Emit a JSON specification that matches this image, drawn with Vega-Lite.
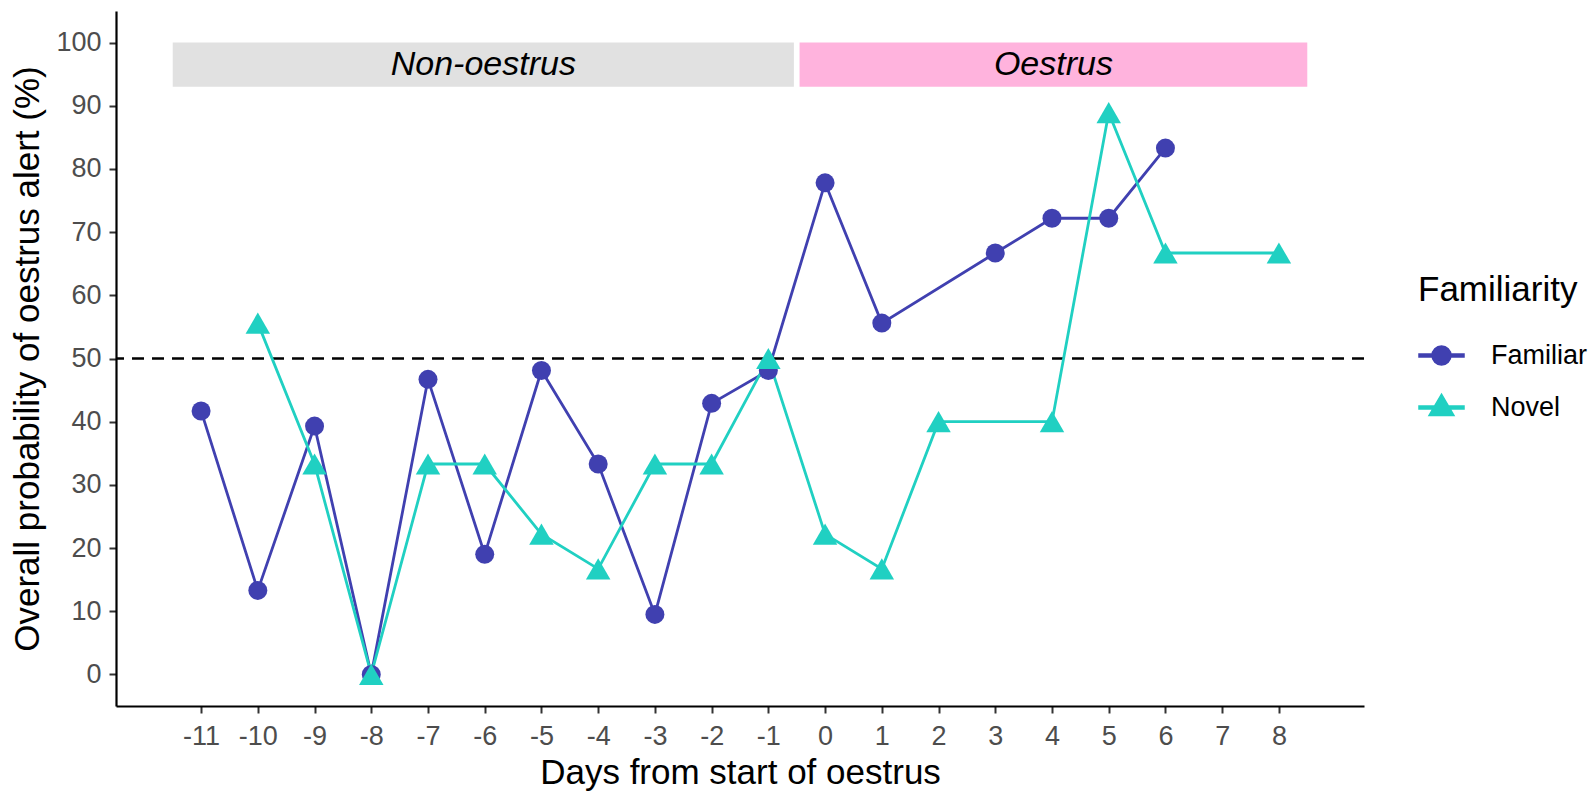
{
  "$schema": "https://vega.github.io/schema/vega-lite/v6.json",
  "autosize": "none",
  "width": 1248,
  "height": 695,
  "padding": {"left": 116, "top": 11, "right": 231, "bottom": 91},
  "background": "white",
  "config": {
    "view": {"stroke": null},
    "font": "Liberation Sans",
    "axis": {
      "grid": false,
      "domainColor": "black",
      "domainWidth": 2.2,
      "tickColor": "#333333",
      "tickWidth": 2,
      "tickSize": 7,
      "labelColor": "#4D4D4D",
      "labelFontSize": 27,
      "labelFont": "Liberation Sans",
      "labelOverlap": false,
      "titleFont": "Liberation Sans",
      "titleFontSize": 35,
      "titleFontWeight": "normal",
      "titleColor": "black"
    },
    "legend": {
      "labelFont": "Liberation Sans",
      "titleFont": "Liberation Sans",
      "orient": "none",
      "legendX": 1302,
      "legendY": 262,
      "titleFontSize": 35,
      "titleFontWeight": "normal",
      "titleColor": "black",
      "titlePadding": 24,
      "labelFontSize": 27,
      "labelColor": "black",
      "labelOffset": 26,
      "symbolSize": 2025,
      "symbolOpacity": 1,
      "rowPadding": 15
    }
  },
  "datasets": {
    "obs": [
      {"day": -11, "prob": 41.7, "group": "Familiar"},
      {"day": -10, "prob": 13.3, "group": "Familiar"},
      {"day": -9, "prob": 39.3, "group": "Familiar"},
      {"day": -8, "prob": 0, "group": "Familiar"},
      {"day": -7, "prob": 46.7, "group": "Familiar"},
      {"day": -6, "prob": 19.0, "group": "Familiar"},
      {"day": -5, "prob": 48.1, "group": "Familiar"},
      {"day": -4, "prob": 33.3, "group": "Familiar"},
      {"day": -3, "prob": 9.5, "group": "Familiar"},
      {"day": -2, "prob": 42.9, "group": "Familiar"},
      {"day": -1, "prob": 48.1, "group": "Familiar"},
      {"day": 0, "prob": 77.8, "group": "Familiar"},
      {"day": 1, "prob": 55.6, "group": "Familiar"},
      {"day": 3, "prob": 66.7, "group": "Familiar"},
      {"day": 4, "prob": 72.2, "group": "Familiar"},
      {"day": 5, "prob": 72.2, "group": "Familiar"},
      {"day": 6, "prob": 83.3, "group": "Familiar"},
      {"day": -10, "prob": 55.6, "group": "Novel"},
      {"day": -9, "prob": 33.3, "group": "Novel"},
      {"day": -8, "prob": 0, "group": "Novel"},
      {"day": -7, "prob": 33.3, "group": "Novel"},
      {"day": -6, "prob": 33.3, "group": "Novel"},
      {"day": -5, "prob": 22.2, "group": "Novel"},
      {"day": -4, "prob": 16.7, "group": "Novel"},
      {"day": -3, "prob": 33.3, "group": "Novel"},
      {"day": -2, "prob": 33.3, "group": "Novel"},
      {"day": -1, "prob": 50.0, "group": "Novel"},
      {"day": 0, "prob": 22.2, "group": "Novel"},
      {"day": 1, "prob": 16.7, "group": "Novel"},
      {"day": 2, "prob": 40.0, "group": "Novel"},
      {"day": 4, "prob": 40.0, "group": "Novel"},
      {"day": 5, "prob": 88.9, "group": "Novel"},
      {"day": 6, "prob": 66.7, "group": "Novel"},
      {"day": 8, "prob": 66.7, "group": "Novel"}
    ],
    "phases": [
      {"phase": "Non-oestrus", "start": -11.5, "end": -0.55, "center": -6.025, "low": 93, "high": 100, "labely": 96.5},
      {"phase": "Oestrus", "start": -0.45, "end": 8.5, "center": 4.025, "low": 93, "high": 100, "labely": 96.5}
    ]
  },
  "layer": [
    {
      "data": {"name": "phases"},
      "transform": [{"filter": "datum.phase === 'Non-oestrus'"}],
      "mark": {"type": "rect", "color": "#E1E1E1"},
      "encoding": {
        "x": {"field": "start", "type": "quantitative"},
        "x2": {"field": "end"},
        "y": {"field": "low", "type": "quantitative"},
        "y2": {"field": "high"}
      }
    },
    {
      "data": {"name": "phases"},
      "transform": [{"filter": "datum.phase === 'Oestrus'"}],
      "mark": {"type": "rect", "color": "#FFB3DD"},
      "encoding": {
        "x": {"field": "start", "type": "quantitative"},
        "x2": {"field": "end"},
        "y": {"field": "low", "type": "quantitative"},
        "y2": {"field": "high"}
      }
    },
    {
      "data": {"name": "phases"},
      "mark": {"type": "text", "fontStyle": "italic", "fontSize": 34, "color": "black", "font": "Liberation Sans", "baseline": "middle", "align": "center"},
      "encoding": {
        "x": {"field": "center", "type": "quantitative"},
        "y": {"field": "labely", "type": "quantitative"},
        "text": {"field": "phase"}
      }
    },
    {
      "data": {"values": [{"threshold": 50}]},
      "mark": {"type": "rule", "color": "black", "strokeWidth": 2.5, "strokeDash": [12, 8]},
      "encoding": {
        "y": {"field": "threshold", "type": "quantitative"}
      }
    },
    {
      "data": {"name": "obs"},
      "transform": [{"filter": "datum.day > 100"}],
      "mark": {"type": "point", "filled": true},
      "encoding": {
        "x": {"field": "day", "type": "quantitative"},
        "y": {"field": "prob", "type": "quantitative"},
        "color": {"field": "group", "type": "nominal", "title": "Familiarity"},
        "shape": {
          "field": "group", "type": "nominal", "title": "Familiarity",
          "scale": {
            "domain": ["Familiar", "Novel"],
            "range": [
              "M-1,-0.062L-0.4,-0.062L-0.4,0.062L-1,0.062ZM0.4,-0.062L1,-0.062L1,0.062L0.4,0.062ZM-0.42,0A0.42,0.42,0,1,1,0.42,0A0.42,0.42,0,1,1,-0.42,0Z",
              "M-1,-0.062L-0.3,-0.062L-0.3,0.062L-1,0.062ZM0.3,-0.062L1,-0.062L1,0.062L0.3,0.062ZM0,-0.59L0.555,0.36L-0.555,0.36Z"
            ]
          }
        }
      }
    },
    {
      "data": {"name": "obs"},
      "mark": {"type": "line", "strokeWidth": 2.8},
      "encoding": {
        "x": {"field": "day", "type": "quantitative"},
        "y": {"field": "prob", "type": "quantitative"},
        "color": {"field": "group", "type": "nominal", "title": "Familiarity"},
        "order": {"field": "day", "type": "quantitative"}
      }
    },
    {
      "data": {"name": "obs"},
      "transform": [{"filter": "datum.group === 'Familiar'"}],
      "mark": {"type": "point", "filled": true, "opacity": 1, "shape": "circle", "size": 361},
      "encoding": {
        "x": {"field": "day", "type": "quantitative"},
        "y": {"field": "prob", "type": "quantitative"},
        "color": {"field": "group", "type": "nominal", "title": "Familiarity"}
      }
    },
    {
      "data": {"name": "obs"},
      "transform": [{"filter": "datum.group === 'Novel'"}],
      "mark": {"type": "point", "filled": true, "opacity": 1, "shape": "triangle-up", "size": 600},
      "encoding": {
        "x": {
          "field": "day", "type": "quantitative",
          "scale": {"domain": [-12.5, 9.5], "nice": false, "zero": false},
          "axis": {"values": [-11,-10,-9,-8,-7,-6,-5,-4,-3,-2,-1,0,1,2,3,4,5,6,7,8], "labelExpr": "datum.value < 0 ? '-' + (-datum.value) : '' + datum.value", "title": "Days from start of oestrus", "labelPadding": 10, "titlePadding": 6, "labelFlush": false}
        },
        "y": {
          "field": "prob", "type": "quantitative",
          "scale": {"domain": [-5, 105], "nice": false, "zero": false},
          "axis": {"values": [0,10,20,30,40,50,60,70,80,90,100], "labelExpr": "'' + datum.value", "title": "Overall probability of oestrus alert (%)", "labelPadding": 8, "titlePadding": 10, "labelFlush": false}
        },
        "color": {
          "field": "group", "type": "nominal", "title": "Familiarity",
          "scale": {"domain": ["Familiar", "Novel"], "range": ["#4040B0", "#20D0C2"]}
        }
      }
    }
  ]
}
